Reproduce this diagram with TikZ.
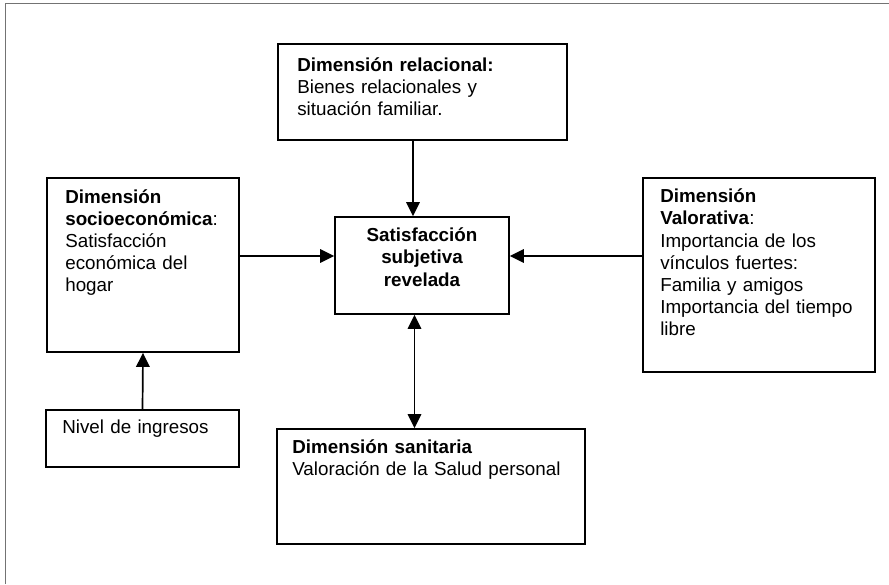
\documentclass[tikz,border=0pt]{standalone}
\usepackage{fontspec}
\setmainfont{Liberation Sans}
\usetikzlibrary{arrows.meta,calc}
\begin{document}
\begin{tikzpicture}[x=1pt,y=-1pt,
  box/.style={draw, line width=1.8pt, rectangle, inner sep=0pt},
  txt/.style={anchor=base west, inner sep=0pt, align=left, text width=#1,
    font=\fontsize{18.8}{22.2}\selectfont},
  ctxt/.style={anchor=base, inner sep=0pt, align=center, text width=#1,
    font=\fontsize{18.8}{22.8}\selectfont\bfseries},
  arr/.style={line width=1.7pt, -{Triangle[length=14pt,width=13.5pt]}},
  darr/.style={line width=1.7pt, {Triangle[length=14pt,width=13.5pt]}-{Triangle[length=14pt,width=13.5pt]}},
  frame/.style={draw=black!55, line width=1.5pt}
]
\useasboundingbox (0,0) rectangle (889,584);
% outer frame (left and top only)
\coordinate (fbl) at (5.5,584);
\coordinate (ftl) at (5.5,3.5);
\coordinate (ftr) at (889,3.5);
\draw[frame] (fbl) -- (ftl) -- (ftr);

% boxes
\node[box, minimum width=289pt, minimum height=96pt] (rel) at (422.5,92) {};
\node[box, minimum width=192pt, minimum height=174pt] (soc) at (143,265) {};
\node[box, minimum width=174pt, minimum height=97pt] (cen) at (422,265.5) {};
\node[box, minimum width=232pt, minimum height=194pt] (val) at (759,275) {};
\node[box, minimum width=193pt, minimum height=57pt] (niv) at (142.5,438.5) {};
\node[box, minimum width=308pt, minimum height=115pt] (san) at (431,486.5) {};

% texts
\node[txt=260pt] (reltxt) at ($(rel.north west)+(20,28)$)
  {\textbf{Dimensión relacional:}\\Bienes relacionales y\\situación familiar.};
\node[txt=180pt] (soctxt) at ($(soc.north west)+(19,26)$)
  {\textbf{Dimensión}\\\textbf{socioeconómica}:\\Satisfacción\\económica del\\hogar};
\node[ctxt=170pt] (centxt) at ($(cen.north)+(0,25)$)
  {Satisfacción\\subjetiva\\revelada};
\node[txt=225pt] (valtxt) at ($(val.north west)+(18,25.5)$)
  {\textbf{Dimensión}\\\textbf{Valorativa}:\\Importancia de los\\vínculos fuertes:\\Familia y amigos\\Importancia del tiempo\\libre};
\node[txt=185pt] (nivtxt) at ($(niv.north west)+(17,24)$)
  {Nivel de ingresos};
\node[txt=300pt] (santxt) at ($(san.north west)+(16,25)$)
  {\textbf{Dimensión sanitaria}\\Valoración de la Salud personal};

% connectors
\draw[arr] ($(rel.south)+(-9.5,0)$) -- ($(cen.north)+(-9,0)$);
\draw[arr] ($(soc.east)+(0,-9)$) -- ($(cen.west)+(0,-9.5)$);
\draw[arr] ($(val.west)+(0,-19)$) -- ($(cen.east)+(0,-9.5)$);
\draw[darr] ($(cen.south)+(-7.5,0)$) -- ($(san.north)+(-16.5,0)$);
\draw[arr] (niv.north) -- (soc.south);
\end{tikzpicture}
\end{document}
